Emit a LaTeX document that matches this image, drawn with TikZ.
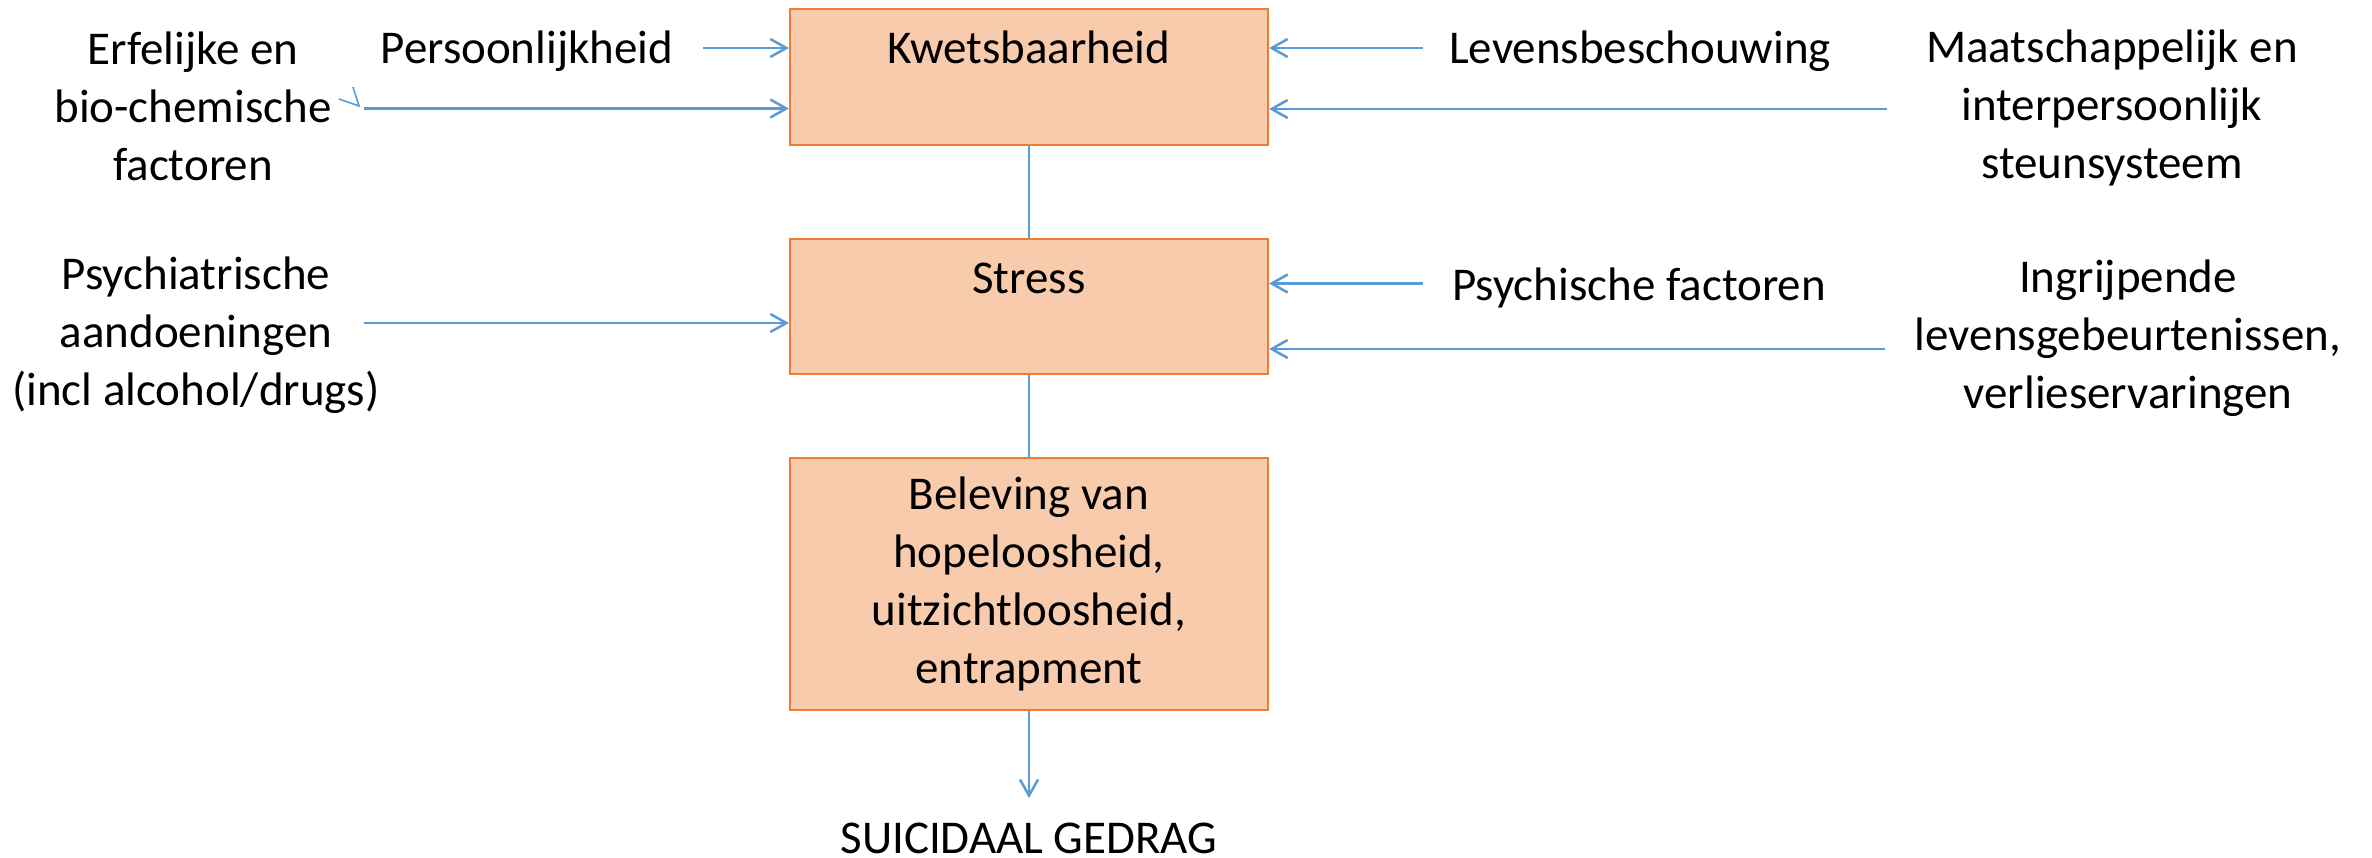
\documentclass[tikz,border=0pt]{standalone}
\usepackage{fontspec}
\setmainfont{Carlito}
\usetikzlibrary{arrows.meta}
\definecolor{boxfill}{HTML}{F8CBAD}
\definecolor{boxline}{HTML}{ED7D31}
\definecolor{arrowblue}{HTML}{5B9BD5}
\tikzset{
  factorbox/.style={draw=boxline, fill=boxfill, line width=1.1pt, inner sep=0pt,
    minimum width=239pt, align=center},
  topbox/.style={factorbox, text height=27pt, text depth=41pt},
  lbl/.style={anchor=base, inner sep=0pt, align=center},
  conn/.style={draw=arrowblue, line width=1.1pt},
  arr/.style={draw=arrowblue, line width=1.25pt, -{Straight Barb[length=8pt,width=9pt]}},
}
\begin{document}
\begin{tikzpicture}[x=0.5pt, y=-0.5pt, font=\fontsize{23.5pt}{29pt}\selectfont]
\useasboundingbox (0,0) rectangle (2372,857);

% main boxes
\node[topbox] (kw) at (1029,77) {Kwetsbaarheid};
\node[factorbox, text height=27pt, text depth=40.5pt] (st) at (1029,306.5) {Stress};
\node[factorbox, minimum height=126pt] (bel) at (1029,584)
  {Beleving van\\hopeloosheid,\\uitzichtloosheid,\\entrapment};
\node[anchor=base, inner sep=12pt] (sg) at (1029,853) {SUICIDAAL GEDRAG};

% vertical connectors
\draw[conn] (kw.south) -- (st.north);
\draw[conn] (st.south) -- (bel.north);
\draw[arr] (bel.south) -- (sg.north);

% left labels (base = baseline of last line)
\node[lbl] (pers) at (527,63) {Persoonlijkheid};
\node[lbl] (erf) at (193,180) {Erfelijke en\\bio-chemische\\factoren};
\node[lbl] (psy) at (196,405) {Psychiatrische\\aandoeningen\\(incl alcohol/drugs)};

% right labels
\node[lbl] (lev) at (1640,63) {Levensbeschouwing};
\node[lbl] (maat) at (2112,178) {Maatschappelijk en\\interpersoonlijk\\steunsysteem};
\node[lbl] (psf) at (1639,300) {Psychische factoren};
\node[lbl] (ingr) at (2128,408) {Ingrijpende\\levensgebeurtenissen,\\verlieservaringen};

% arrow start points
\coordinate (pA) at (703,48);
\coordinate (eA) at (364,108.5);
\coordinate (yA) at (364,323);
\coordinate (lA) at (1423,48);
\coordinate (mA) at (1887,109);
\coordinate (fA) at (1423,283.5);
\coordinate (iA) at (1885,349);

\draw[arr] (pA) -- (pA -| kw.west);
\draw[arr] (eA) -- (eA -| kw.west);
\draw[arr] (yA) -- (yA -| st.west);
\draw[arr] (lA) -- (lA -| kw.east);
\draw[arr] (mA) -- (mA -| kw.east);
\draw[arr] (fA) -- (fA -| st.east);
\draw[arr] (iA) -- (iA -| st.east);

% small stray tick near the Erfelijke arrow
\draw[draw=arrowblue, line width=0.8pt] (353,87) -- (359,106) -- (339,99);
\end{tikzpicture}
\end{document}
